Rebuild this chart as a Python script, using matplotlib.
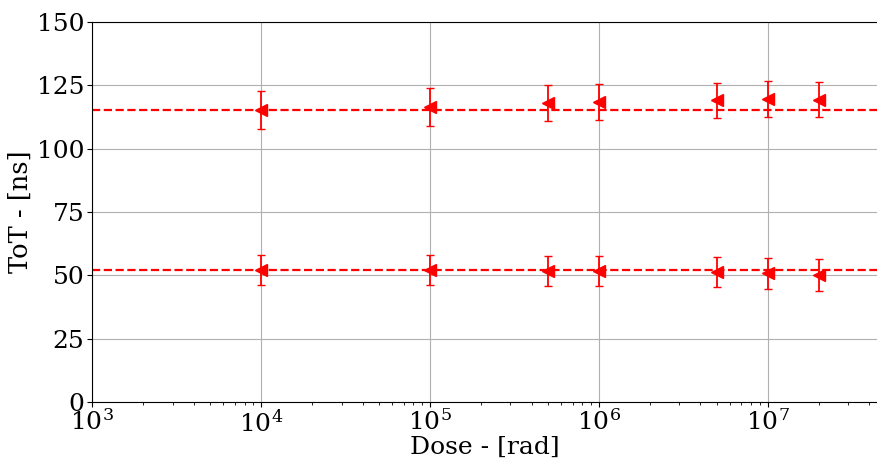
import matplotlib
matplotlib.use("Agg")
import matplotlib.pyplot as plt
import numpy as np

# Irradiation dose steps and time-over-threshold measurements
dose = [1e4, 1e5, 5e5, 1e6, 5e6, 1e7, 2e7]

tot_high = [115.3, 116.5, 118.0, 118.4, 119.1, 119.5, 119.4]
err_high = [7.6, 7.4, 7.2, 7.2, 7.0, 7.1, 6.8]

tot_low = [52.1, 52.1, 51.8, 51.6, 51.3, 50.8, 50.1]
err_low = [6.0, 6.0, 6.0, 6.0, 6.0, 6.2, 6.3]

y_ticks = [0, 25, 50, 75, 100, 125, 150]

plt.rcParams['font.family'] = 'DejaVu Serif'
plt.rcParams['mathtext.fontset'] = 'dejavuserif'

fig = plt.figure(figsize=(8.77, 4.62), dpi=100)
ax = fig.add_axes([92 / 877, 60 / 462, 786 / 877, 380 / 462])

for vals, errs in [(tot_high, err_high), (tot_low, err_low)]:
    ax.errorbar(dose, vals, yerr=errs, fmt='<', color='red', markersize=8,
                ecolor='red', elinewidth=1.3, capsize=3, capthick=1.0,
                zorder=3)
    ax.axhline(vals[0], color='red', linestyle='--', linewidth=1.6, zorder=2)

ax.set_xscale('log')
ax.set_xlim(1e3, 4.5e7)
ax.set_ylim(0, 150)
ax.set_yticks(y_ticks)
ax.grid(True, which='major', color='#b0b0b0', linewidth=0.8)
ax.set_axisbelow(True)

ax.tick_params(axis='both', which='major', labelsize=18, pad=2)
ax.set_xlabel('Dose - [rad]', fontsize=18, labelpad=0)
ax.set_ylabel('ToT - [ns]', fontsize=18.5, labelpad=3)

fig.savefig('out.png', dpi=100)
